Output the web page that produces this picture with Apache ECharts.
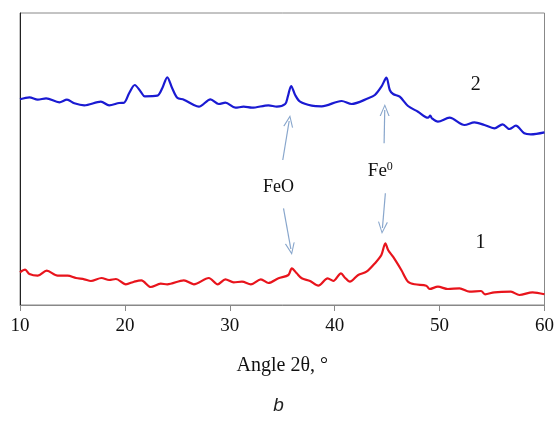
<!DOCTYPE html>
<html>
<head>
<meta charset="utf-8">
<script src="https://cdn.jsdelivr.net/npm/echarts@6/dist/echarts.min.js"></script>
<style>html,body{margin:0;padding:0;background:#fff}#c{width:557px;height:435px}</style>
</head>
<body>
<div id="c"></div>
<script>
// Sample 2 (blue): [angle 2theta, intensity a.u.]
var angles2 = [10.0,10.9,11.69,12.49,13.75,14.48,15.18,16.13,17.71,18.5,19.45,19.92,20.4,20.94,21.51,21.89,23.09,23.56,24.04,24.51,24.99,25.62,26.57,27.05,28.16,28.95,29.58,30.53,31.32,32.11,33.69,34.48,35.28,35.53,35.85,36.23,36.7,37.81,38.76,40.66,41.61,43.19,43.83,44.45,44.93,45.25,45.57,46.2,46.99,47.94,48.89,49.11,49.27,49.84,50.95,52.37,53.32,54.27,55.22,56.01,56.65,57.27,58.07,58.7,60.0];
var intens2 = [205.7,207.7,205.3,206.7,202.7,205.3,201.7,199.7,203.3,199.7,202,202.3,211.7,220,213.3,208.7,209.3,216.7,227.7,216.7,207.3,205.3,200,198.3,205.7,201,202.3,197.3,198.3,197.3,199.7,198.3,201,208.3,219,210,203.3,199.3,198.7,204,201,206.7,210,218.3,227.3,215,211,208.3,199,193.3,187.3,189.3,186.7,183.3,187.3,180,182.7,180,176.7,180.7,176,179.3,171.7,170.7,172.7];
// Sample 1 (red)
var angles1 = [10.0,10.49,10.9,11.69,12.55,13.59,14.54,15.34,16.13,16.76,17.77,18.5,19.14,20.09,20.87,21.57,22.46,23.41,24.04,25.62,26.57,28.0,28.85,29.58,30.37,31.16,32.01,32.96,33.69,34.64,35.59,35.91,36.38,36.86,37.65,38.44,39.33,39.87,40.6,40.98,41.45,42.24,43.03,43.83,44.45,44.83,45.09,45.56,46.35,46.99,47.63,48.73,49.05,49.84,50.79,51.9,52.85,53.95,54.33,55.22,56.8,57.6,58.86,60.0];
var intens1 = [32.7,35.3,31,29.3,34.3,29.3,29.3,27,25.7,24,27,25,26,20.7,23.3,24.7,18,21.3,20.7,24.7,20.7,27,20.7,25.7,22.7,23.3,20.7,25.7,22,26.7,30,36.7,31.7,26.7,24,19.3,26.7,24,31.7,27.3,23.3,30,33.3,41.7,50,61.7,55,48.3,35,23.3,20.7,19.3,16,18.3,16,16.7,13.3,14,10.7,12.7,13.3,10,12.7,10.7];
var xTicks = [10,20,30,40,50,60];
var seriesNames = ['1','2'];
// annotation arrows [tail, head] in data coordinates
var feoArrows = [[[35.05,145],[35.66,184]],[[35.12,96.7],[35.82,56]]];
var fe0Arrows = [[[44.71,161.7],[44.77,195]],[[44.83,111.7],[44.55,77]]];
var labelFeO = [34.65,118];
var labelFe0 = [44.35,134];
var label2Pos = [53.45,220];
var label1Pos = [53.9,62];

function zip(a,b){return a.map(function(v,i){return [v,b[i]];});}
var serif = 'Liberation Serif';
var arrowColor = '#88a6cc';
var chevron = 'path://M0,12 L5,0 L10,12 L8.8,12 L5,2.6 L1.2,12 Z';

function arrowLines(list){
  return list.map(function(p){return [{coord:p[0],symbol:'none'},{coord:p[1],symbol:chevron,symbolSize:[10,12]}];});
}

var chart = echarts.init(document.getElementById('c'));
chart.setOption({
  animation:false,
  backgroundColor:'#fff',
  title:{text:'b',left:'center',top:391,textStyle:{fontFamily:'Liberation Sans',fontStyle:'italic',fontWeight:'normal',fontSize:19,color:'#222'}},
  grid:{left:20,right:10,top:13,bottom:130,show:true,borderColor:'#888',borderWidth:1},
  xAxis:{type:'value',min:xTicks[0],max:xTicks[xTicks.length-1],interval:10,
    name:'Angle 2θ, °',nameLocation:'middle',nameGap:51,
    nameTextStyle:{fontFamily:serif,fontSize:20,color:'#111'},
    axisLine:{lineStyle:{color:'#888'}},
    axisTick:{show:true,length:6,lineStyle:{color:'#888'}},
    axisLabel:{margin:12,fontFamily:serif,fontSize:19,color:'#111'},
    splitLine:{show:false}},
  yAxis:{type:'value',min:0,max:292,axisLine:{show:true,lineStyle:{color:'#222'}},axisTick:{show:false},axisLabel:{show:false},splitLine:{show:false}},
  series:[
    {name:seriesNames[1],type:'line',data:zip(angles2,intens2),smooth:0.3,showSymbol:false,lineStyle:{color:'#1a1ad2',width:2.2},
      markLine:{silent:true,animation:false,lineStyle:{color:arrowColor,width:1.2,type:'solid'},label:{show:false},data:arrowLines(feoArrows.concat(fe0Arrows))},
      markPoint:{silent:true,symbol:'circle',symbolSize:0,data:[
        {coord:labelFeO,label:{show:true,formatter:'FeO',fontFamily:serif,fontSize:18,color:'#111'}},
        {coord:labelFe0,label:{show:true,formatter:'Fe{s|0}',fontFamily:serif,fontSize:19,color:'#111',rich:{s:{fontFamily:serif,fontSize:12,color:'#111',verticalAlign:'top',padding:[0,0,8,0]}}}},
        {coord:label2Pos,label:{show:true,formatter:seriesNames[1],fontFamily:serif,fontSize:20,color:'#111'}},
        {coord:label1Pos,label:{show:true,formatter:seriesNames[0],fontFamily:serif,fontSize:20,color:'#111'}}
      ]}},
    {name:seriesNames[0],type:'line',data:zip(angles1,intens1),smooth:0.3,showSymbol:false,lineStyle:{color:'#e8141c',width:2.2}}
  ]
});
</script>
</body>
</html>
